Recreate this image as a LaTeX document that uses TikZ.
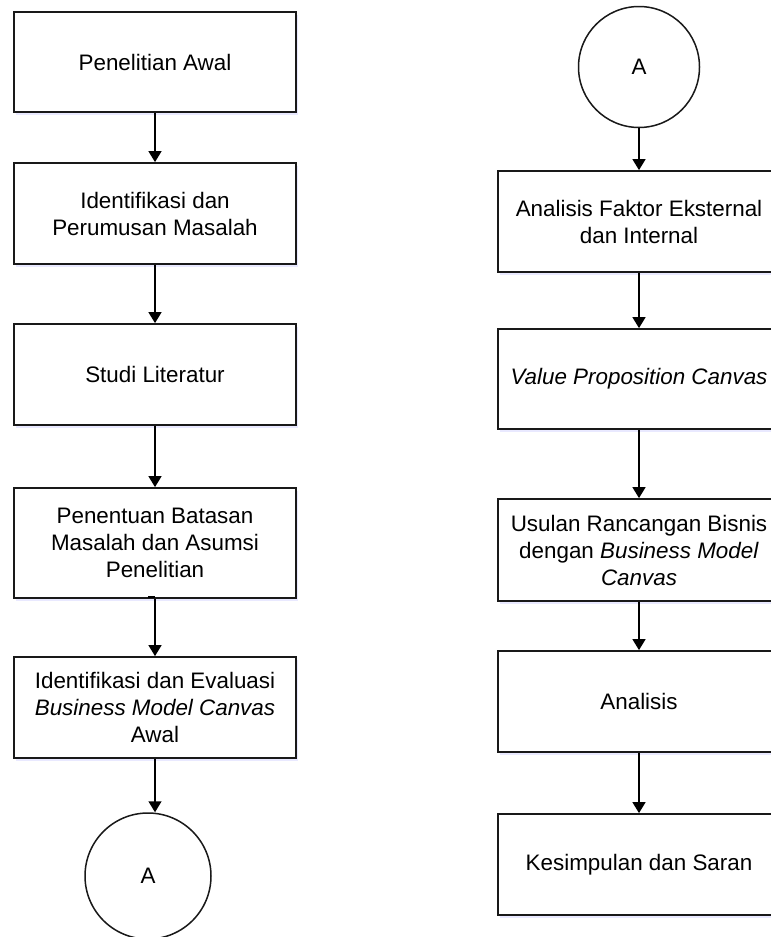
\documentclass[tikz,border=0pt]{standalone}
\usepackage{fontspec}
\setmainfont{Liberation Sans}
\usetikzlibrary{arrows.meta,shadows}
\begin{document}
\begin{tikzpicture}[x=1pt,y=-1pt,
  box/.style={draw=black!90, line width=1.8pt, fill=white, minimum width=282pt,
    inner sep=2pt, align=center, font=\fontsize{22.4}{27}\selectfont,
    drop shadow={shadow xshift=2pt, shadow yshift=-3pt, fill=blue!12, opacity=0.7}},
  conn/.style={draw=black!90, line width=1.5pt, fill=white, circle, inner sep=0pt,
    font=\fontsize{22.4}{27}\selectfont},
  arr/.style={line width=1.5pt, -{Triangle[width=13pt,length=11pt]}}
]
\useasboundingbox (0,0) rectangle (771,937);
\clip (0,0) rectangle (771,937);
\fill[white] (0,0) rectangle (771,937);

% left column
\node[box, minimum height=100pt] (b1) at (155,62) {Penelitian Awal};
\node[box, minimum height=101pt] (b2) at (155,213.5) {Identifikasi dan\\Perumusan Masalah};
\node[box, minimum height=101pt] (b3) at (155,374.5) {Studi Literatur};
\node[box, minimum height=110pt] (b4) at (155,543) {Penentuan Batasan\\Masalah dan Asumsi\\Penelitian};
\node[box, minimum height=101pt] (b5) at (155,707.5) {Identifikasi dan Evaluasi\\\textit{Business Model Canvas}\\Awal};
\node[conn, minimum size=126pt] (a1) at (148,876) {A};

% right column
\node[conn, minimum size=121pt] (a2) at (639,67) {A};
\node[box, minimum height=101pt] (r1) at (639,221.5) {Analisis Faktor Eksternal\\dan Internal};
\node[box, minimum height=100pt] (r2) at (639,379) {\textit{Value Proposition Canvas}};
\node[box, minimum height=102pt] (r3) at (639,550) {Usulan Rancangan Bisnis\\dengan \textit{Business Model}\\\textit{Canvas}};
\node[box, minimum height=101pt] (r4) at (639,701.5) {Analisis};
\node[box, minimum height=101pt] (r5) at (639,864.5) {Kesimpulan dan Saran};

% connectors
\draw[arr] (b1.south) -- (b2.north);
\draw[arr] (b2.south) -- (b3.north);
\draw[arr] (b3.south) -- (b4.north);
\draw[arr] (b4.south) -- (b5.north);
\draw[line width=1.2pt] (b4.south) ++(0,-2) -- ++(-7,0);
\draw[arr] (b5.south) -- (b5.south |- a1.north);

\draw[arr] (a2.south) -- (r1.north);
\draw[arr] (r1.south) -- (r2.north);
\draw[arr] (r2.south) -- (r3.north);
\draw[arr] (r3.south) -- (r4.north);
\draw[arr] (r4.south) -- (r5.north);
\end{tikzpicture}
\end{document}
